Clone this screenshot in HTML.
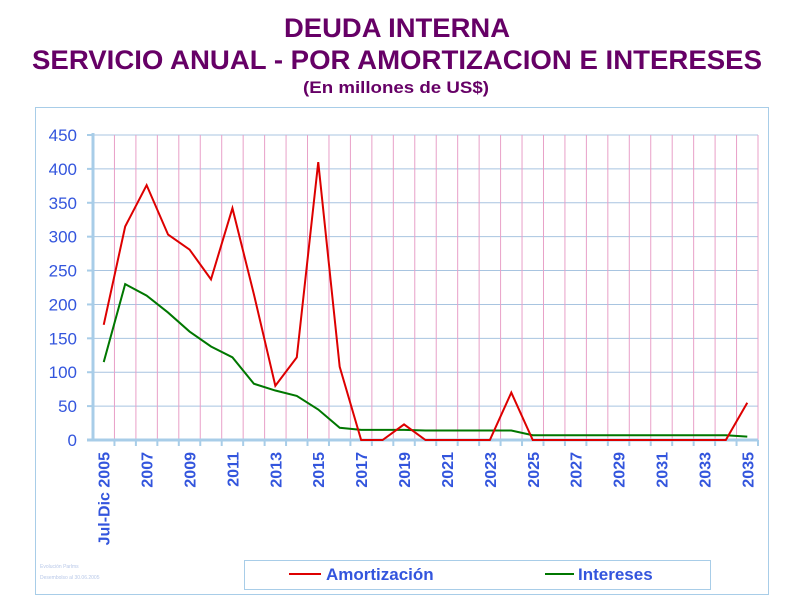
<!DOCTYPE html>
<html><head><meta charset="utf-8"><style>html,body{margin:0;padding:0;background:#fff}svg{display:block}</style></head>
<body>
<svg width="800" height="600" xmlns="http://www.w3.org/2000/svg" font-family="Liberation Sans, sans-serif">
<rect x="0" y="0" width="800" height="600" fill="#fff"/>
<text x="397" y="37" text-anchor="middle" font-size="27" font-weight="bold" fill="#660066" textLength="226" lengthAdjust="spacingAndGlyphs">DEUDA INTERNA</text>
<text x="397" y="69" text-anchor="middle" font-size="27" font-weight="bold" fill="#660066" textLength="730" lengthAdjust="spacingAndGlyphs">SERVICIO ANUAL - POR AMORTIZACION E INTERESES</text>
<text x="396" y="93" text-anchor="middle" font-size="17" font-weight="bold" fill="#660066" textLength="186" lengthAdjust="spacingAndGlyphs">(En millones de US$)</text>
<rect x="35.5" y="107.5" width="733" height="487" fill="none" stroke="#a8cde8" stroke-width="1"/>
<g id="grid"></g>
<g id="lbl" fill="#3355dd"></g>
<rect x="244.5" y="560.5" width="466" height="29" fill="none" stroke="#a8cde8"/>
<line x1="289" y1="574" x2="321" y2="574" stroke="#dd0000" stroke-width="2"/>
<text x="326" y="580" font-size="17" font-weight="bold" fill="#3355dd">Amortización</text>
<line x1="545" y1="574" x2="574" y2="574" stroke="#007700" stroke-width="2"/>
<text x="578" y="580" font-size="17" font-weight="bold" fill="#3355dd">Intereses</text>
<text x="40" y="568" font-size="5" fill="#b8c8e8">Evolución Parlms</text>
<text x="40" y="579" font-size="5" fill="#b8c8e8">Desembolso al 30.06.2005</text>
</svg>
<script>
const ns="http://www.w3.org/2000/svg";
const g=document.getElementById('grid'),L=document.getElementById('lbl');
function el(t,a,p){const e=document.createElementNS(ns,t);for(const k in a)e.setAttribute(k,a[k]);(p||g).appendChild(e);return e;}
const x0=93,x1=758,dx=(x1-x0)/31;
const Y=v=>440-v*305/450;
for(let v=50;v<=450;v+=50) el('line',{x1:x0,x2:x1,y1:Y(v),y2:Y(v),stroke:'#a8c4e0','stroke-width':1});
for(let i=1;i<=31;i++){const x=x0+i*dx;el('line',{x1:x,x2:x,y1:135,y2:440,stroke:'#e8a0c8','stroke-width':1});el('line',{x1:x,x2:x,y1:440,y2:446,stroke:'#a8cde8','stroke-width':2});}
el('line',{x1:x0,x2:x0,y1:133,y2:441,stroke:'#a8cde8','stroke-width':3});
el('line',{x1:x0-6,x2:x1,y1:440,y2:440,stroke:'#a8cde8','stroke-width':3});
for(let v=0;v<=450;v+=50){el('line',{x1:x0-6,x2:x0,y1:Y(v),y2:Y(v),stroke:'#a8cde8','stroke-width':2});
 const t=el('text',{x:77,y:Y(v)+6,'text-anchor':'end','font-size':17,'font-family':'Liberation Sans, sans-serif'},L);t.textContent=v;}
for(let i=0;i<=30;i+=2){const x=x0+(i+0.5)*dx+6;const t=el('text',{x:0,y:0,transform:`translate(${x},452) rotate(-90)`,'text-anchor':'end','font-size':16,'font-weight':'bold'},L);t.textContent=i==0?'Jul-Dic 2005':(2005+i);}
const A=[170,315,376,303,281,237,342,215,80,122,410,108,0,0,23,0,0,0,0,70,0,0,0,0,0,0,0,0,0,0,55];
const I=[115,230,213,188,160,138,122,83,73,65,45,18,15,15,15,14,14,14,14,14,7,7,7,7,7,7,7,7,7,7,5];
function line(d,c){el('polyline',{points:d.map((v,i)=>`${x0+(i+0.5)*dx},${Y(v)}`).join(' '),fill:'none',stroke:c,'stroke-width':2});}
line(I,'#007700');line(A,'#dd0000');
</script>
</body></html>
